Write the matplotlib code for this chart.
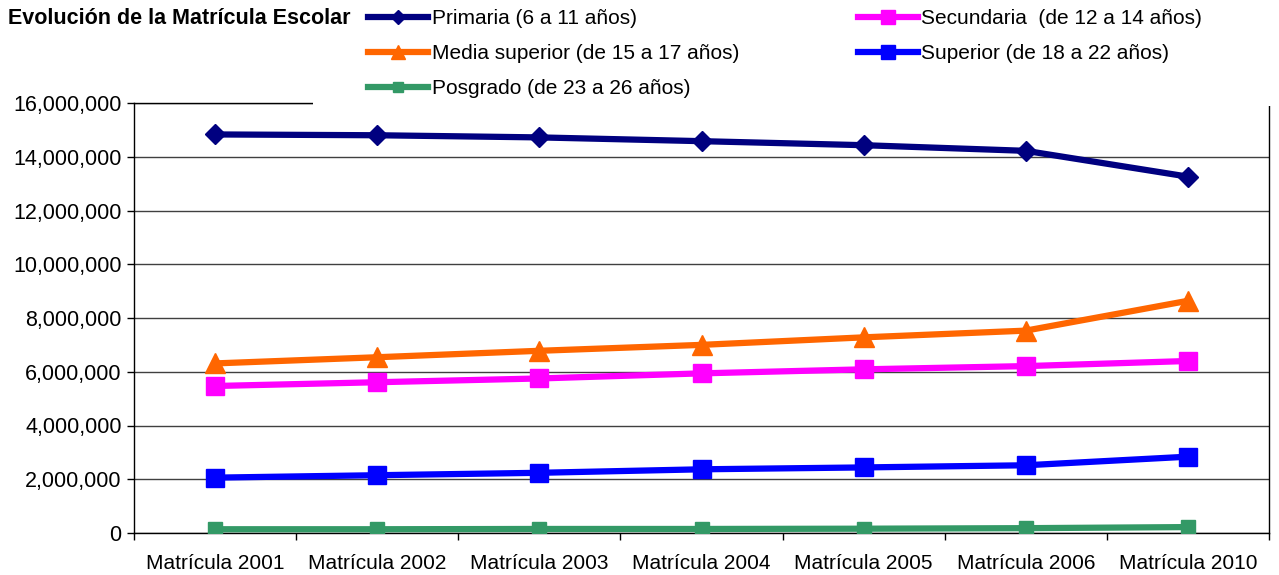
import matplotlib.pyplot as plt
from matplotlib.patches import Rectangle
from matplotlib.ticker import FuncFormatter

plt.rcParams['font.family'] = ['Liberation Sans', 'DejaVu Sans']

years = ["Matrícula 2001", "Matrícula 2002", "Matrícula 2003", "Matrícula 2004",
         "Matrícula 2005", "Matrícula 2006", "Matrícula 2010"]

# enrolment in millions of students
primaria = [14.83, 14.80, 14.72, 14.58, 14.43, 14.22, 13.26]
secundaria = [5.47, 5.61, 5.75, 5.94, 6.09, 6.21, 6.40]
media_superior = [6.31, 6.54, 6.78, 7.00, 7.28, 7.53, 8.64]
superior = [2.06, 2.15, 2.24, 2.37, 2.44, 2.52, 2.84]
posgrado = [0.14, 0.14, 0.15, 0.15, 0.16, 0.18, 0.22]

W, H = 1279, 575
fig = plt.figure(figsize=(W / 100, H / 100), dpi=100)
ax = fig.add_axes([134 / W, 1 - 533 / H, (1269 - 134) / W, (533 - 103) / H])

x = range(len(years))
to_units = lambda vals: [v * 1e6 for v in vals]

l1, = ax.plot(x, to_units(primaria), color="#000080", lw=4.5, marker="D", ms=10,
              label="Primaria (6 a 11 años)", zorder=5)
l2, = ax.plot(x, to_units(secundaria), color="#FF00FF", lw=4.5, marker="s", ms=13.5,
              label="Secundaria  (de 12 a 14 años)", zorder=4)
l3, = ax.plot(x, to_units(media_superior), color="#FF6600", lw=4.5, marker="^", ms=14,
              label="Media superior (de 15 a 17 años)", zorder=4)
l4, = ax.plot(x, to_units(superior), color="#0000FF", lw=4.5, marker="s", ms=13.5,
              label="Superior (de 18 a 22 años)", zorder=4)
l5, = ax.plot(x, to_units(posgrado), color="#339966", lw=4.5, marker="s", ms=10.5,
              label="Posgrado (de 23 a 26 años)", zorder=4)

ax.set_xlim(-0.5, len(years) - 0.5)
ax.set_ylim(0, 16e6)
ax.set_yticks([i * 2e6 for i in range(9)])
ax.yaxis.set_major_formatter(FuncFormatter(lambda v, p: f"{v:,.0f}"))
ax.tick_params(axis="y", labelsize=15.5, length=5, width=1, pad=4, direction="out")

# ticks sit between categories, labels centred on each category
ax.set_xticks([i - 0.5 for i in range(len(years) + 1)])
ax.set_xticklabels([])
ax.set_xticks(list(x), minor=True)
ax.set_xticklabels(years, minor=True)
ax.tick_params(axis="x", which="major", length=5, width=1, direction="out")
ax.tick_params(axis="x", which="minor", length=0, labelsize=15, pad=15)

ax.grid(axis="y", color="#404040", lw=1)
ax.set_axisbelow(True)
for s in ax.spines.values():
    s.set_color("black")
    s.set_linewidth(1)

# white block behind the legend covers the top of the plot frame
fig.patches.append(Rectangle((313 / W, 1 - 106 / H), 1 - 313 / W, 106 / H,
                             transform=fig.transFigure, facecolor="white",
                             edgecolor="none", zorder=1))

fig.text(8 / W, 1 - 18 / H, "Evolución de la Matrícula Escolar", fontsize=15.5,
         fontweight="bold", ha="left", va="center")

leg = fig.legend(handles=[l1, l3, l5, l2, l4], ncol=2, loc="upper left",
                 bbox_to_anchor=(368 / W, 1 - 9 / H), frameon=False, fontsize=15,
                 handlelength=2.9, handletextpad=0.15, columnspacing=5.7,
                 labelspacing=0.78, borderpad=0, borderaxespad=0, markerscale=0.75)

fig.savefig("out.png", dpi=100)
